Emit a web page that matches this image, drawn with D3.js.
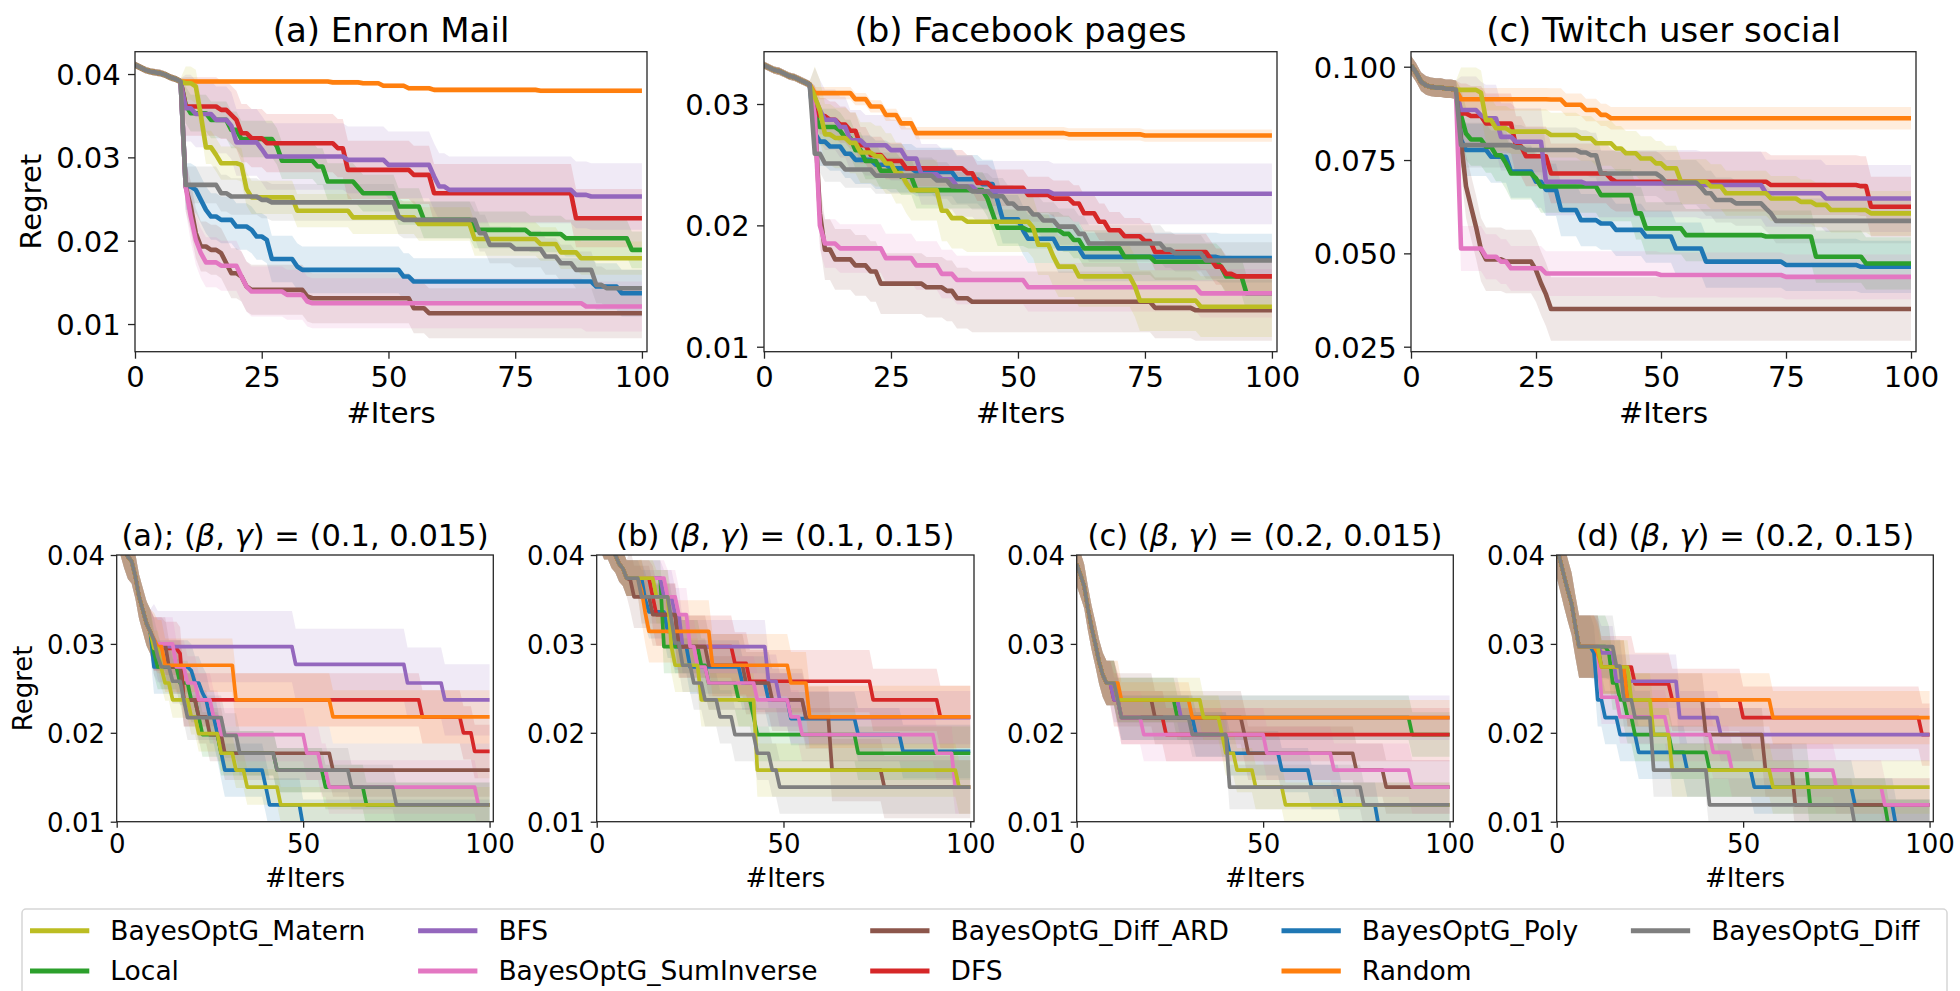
<!DOCTYPE html>
<html>
<head>
<meta charset="utf-8">
<script src="https://cdn.jsdelivr.net/npm/d3@7"></script>
<style>
  body { margin: 0; background: #fff; }
  svg { display: block; }
  text { font-family: "DejaVu Sans", sans-serif; fill: #000; }
</style>
</head>
<body>
<svg id="chart" width="1960" height="991"></svg>
<script>
// ---- series (legend order) and their colours ----
const SERIES = ["BayesOptG_Matern", "Local", "BFS", "BayesOptG_SumInverse", "BayesOptG_Diff_ARD",
                "DFS", "BayesOptG_Poly", "Random", "BayesOptG_Diff"];
const COLORS = ["#bcbd22", "#2ca02c", "#9467bd", "#e377c2", "#8c564b",
                "#d62728", "#1f77b4", "#ff7f0e", "#7f7f7f"];
// painting order (later = on top)
const DRAW_ORDER = ["BayesOptG_Poly", "Local", "DFS", "BFS", "BayesOptG_Diff_ARD",
                    "BayesOptG_SumInverse", "Random", "BayesOptG_Matern", "BayesOptG_Diff"];

const ITER_TICKS_TOP = [0, 25, 50, 75, 100];
const ITER_TICKS_BOTTOM = [0, 50, 100];
const REGRET_TICKS_ENRON = [0.01, 0.02, 0.03, 0.04];
const REGRET_TICKS_FACEBOOK = [0.01, 0.02, 0.03];
const REGRET_TICKS_TWITCH = [0.025, 0.05, 0.075, 0.1];
const REGRET_TICKS_SIR = [0.01, 0.02, 0.03, 0.04];

const TOP_TITLES = ["(a) Enron Mail", "(b) Facebook pages", "(c) Twitch user social"];
const SIR_PREFIX = ["(a);", "(b)", "(c)", "(d)"];
const SIR_BETA = ["0.1", "0.1", "0.2", "0.2"];
const SIR_GAMMA = ["0.015", "0.15", "0.015", "0.15"];

// Mean regret per run as [iteration, value] breakpoints; value holds until the next breakpoint.
const enronInit = [[0,0.0411],[1,0.0408],[2,0.0405],[3,0.0403],[4,0.0402],[5,0.0401],[6,0.0399],[7,0.0396],[8,0.0394],[9,0.0391]];
const enron = {
  "BayesOptG_Matern": [[10,0.0389],[12,0.0385],[13,0.0350],[14,0.0312],[16,0.0303],[17,0.0293],[21,0.0291],[22,0.0262],[23,0.0252],[32,0.0236],[43,0.0228],[56,0.0220],[67,0.0202],[80,0.0196],[84,0.0186],[88,0.0179]],
  "Local": [[10,0.0363],[11,0.0353],[15,0.0345],[19,0.0333],[21,0.0322],[28,0.0313],[29,0.0296],[36,0.0289],[38,0.0271],[44,0.0264],[45,0.0257],[52,0.0241],[57,0.0225],[67,0.0213],[78,0.0208],[85,0.0203],[98,0.0189]],
  "BFS": [[10,0.0359],[12,0.0352],[16,0.0345],[19,0.0338],[20,0.0318],[25,0.0310],[26,0.0301],[42,0.0297],[50,0.0291],[59,0.0277],[60,0.0265],[62,0.0261],[87,0.0255],[90,0.0253]],
  "BayesOptG_SumInverse": [[10,0.0265],[11,0.0229],[12,0.0201],[13,0.0185],[14,0.0174],[17,0.0170],[21,0.0157],[22,0.0145],[23,0.0139],[30,0.0135],[34,0.0127],[35,0.0125],[89,0.0121]],
  "BayesOptG_Diff_ARD": [[10,0.0265],[11,0.0241],[12,0.0209],[13,0.0193],[15,0.0189],[17,0.0185],[18,0.0173],[19,0.0161],[21,0.0157],[22,0.0145],[23,0.0141],[34,0.0133],[35,0.0131],[55,0.0119],[58,0.0113]],
  "DFS": [[10,0.0361],[17,0.0357],[19,0.0351],[20,0.0345],[21,0.0329],[23,0.0323],[26,0.0317],[40,0.0311],[42,0.0285],[55,0.0279],[59,0.0257],[87,0.0227]],
  "BayesOptG_Poly": [[10,0.0265],[12,0.0261],[13,0.0249],[14,0.0237],[15,0.0229],[17,0.0225],[20,0.0217],[23,0.0213],[24,0.0205],[26,0.0201],[27,0.0178],[32,0.0169],[33,0.0165],[53,0.0157],[55,0.0151],[91,0.0145],[96,0.0137]],
  "Random": [[10,0.0391],[39,0.0390],[45,0.0389],[49,0.0386],[54,0.0383],[59,0.0381],[80,0.0380]],
  "BayesOptG_Diff": [[10,0.0267],[17,0.0257],[19,0.0253],[25,0.0249],[27,0.0246],[52,0.0229],[53,0.0225],[68,0.0209],[70,0.0195],[75,0.0190],[81,0.0181],[84,0.0173],[87,0.0165],[91,0.0147],[93,0.0143]]
};
const enronSpread = [0.0020, 0.0022, 0.0040, 0.0030, 0.0030, 0.0035, 0.0028, 0.0003, 0.0022];

const facebookInit = [[0,0.0332],[1,0.0330],[2,0.0328],[3,0.0327],[4,0.0325],[5,0.0323],[6,0.0322],[7,0.0320],[8,0.0318],[9,0.0316]];
const facebook = {
  "BayesOptG_Matern": [[10,0.0306],[11,0.0295],[12,0.0275],[14,0.0272],[17,0.0268],[19,0.0260],[22,0.0257],[24,0.0251],[26,0.0243],[28,0.0235],[29,0.0229],[35,0.0212],[37,0.0206],[40,0.0203],[53,0.0198],[54,0.0184],[57,0.0174],[58,0.0166],[62,0.0158],[73,0.0150],[74,0.0138],[86,0.0133]],
  "Local": [[10,0.0292],[11,0.0281],[15,0.0278],[16,0.0272],[18,0.0262],[20,0.0253],[23,0.0245],[27,0.0240],[30,0.0229],[44,0.0222],[45,0.0210],[46,0.0198],[52,0.0196],[59,0.0193],[61,0.0188],[63,0.0181],[71,0.0174],[77,0.0170],[90,0.0166],[91,0.0158],[95,0.0144]],
  "BFS": [[10,0.0305],[11,0.0295],[12,0.0287],[15,0.0281],[17,0.0270],[20,0.0266],[25,0.0262],[28,0.0255],[31,0.0242],[35,0.0238],[38,0.0232],[42,0.0228],[57,0.0226]],
  "BayesOptG_SumInverse": [[10,0.0290],[11,0.0200],[12,0.0185],[15,0.0181],[24,0.0173],[30,0.0167],[35,0.0160],[38,0.0155],[52,0.0149],[86,0.0144]],
  "BayesOptG_Diff_ARD": [[10,0.0290],[11,0.0210],[12,0.0180],[14,0.0172],[18,0.0167],[21,0.0162],[23,0.0152],[32,0.0149],[36,0.0146],[38,0.0140],[41,0.0137],[77,0.0132],[85,0.0130]],
  "DFS": [[10,0.0300],[11,0.0290],[13,0.0287],[15,0.0283],[17,0.0278],[19,0.0266],[21,0.0258],[24,0.0253],[28,0.0247],[40,0.0243],[42,0.0235],[45,0.0231],[52,0.0225],[57,0.0222],[61,0.0218],[63,0.0210],[66,0.0203],[68,0.0196],[71,0.0191],[75,0.0187],[77,0.0178],[88,0.0172],[89,0.0166],[91,0.0160],[93,0.0158]],
  "BayesOptG_Poly": [[10,0.0276],[11,0.0269],[13,0.0265],[16,0.0259],[18,0.0254],[22,0.0250],[25,0.0247],[30,0.0244],[38,0.0238],[43,0.0234],[46,0.0220],[47,0.0205],[51,0.0196],[52,0.0189],[58,0.0181],[63,0.0174],[90,0.0173]],
  "Random": [[10,0.0309],[15,0.0309],[18,0.0304],[21,0.0298],[24,0.0291],[27,0.0284],[30,0.0276],[60,0.0275],[75,0.0274]],
  "BayesOptG_Diff": [[10,0.0259],[12,0.0251],[16,0.0246],[22,0.0241],[34,0.0237],[37,0.0232],[41,0.0228],[45,0.0224],[48,0.0218],[50,0.0214],[53,0.0209],[55,0.0204],[58,0.0199],[62,0.0193],[64,0.0185],[79,0.0180],[81,0.0177],[87,0.0171]]
};
const facebookSpread = [0.0025, 0.0015, 0.0025, 0.0020, 0.0025, 0.0015, 0.0020, 0.0005, 0.0015];

const twitchInit = [[0,0.1004],[1,0.0985],[2,0.0960],[3,0.0950],[4,0.0946],[5,0.0944],[7,0.0941],[9,0.0938]];
const twitch = {
  "BayesOptG_Matern": [[10,0.0938],[14,0.0930],[15,0.0857],[17,0.0835],[20,0.0826],[28,0.0817],[34,0.0808],[37,0.0795],[41,0.0781],[43,0.0768],[46,0.0754],[49,0.0741],[51,0.0728],[54,0.0692],[60,0.0679],[63,0.0661],[72,0.0647],[78,0.0638],[81,0.0630],[84,0.0616],[92,0.0607]],
  "Local": [[10,0.0870],[11,0.0821],[12,0.0805],[15,0.0786],[17,0.0763],[19,0.0741],[20,0.0714],[25,0.0701],[26,0.0679],[38,0.0656],[45,0.0607],[47,0.0567],[55,0.0549],[71,0.0545],[81,0.0491],[91,0.0473]],
  "BFS": [[10,0.0884],[14,0.0870],[15,0.0862],[18,0.0812],[21,0.0799],[27,0.0692],[35,0.0687],[58,0.0683],[71,0.0661],[83,0.0647]],
  "BayesOptG_SumInverse": [[10,0.0513],[15,0.0491],[18,0.0478],[20,0.0460],[27,0.0446],[50,0.0442],[75,0.0437]],
  "BayesOptG_Diff_ARD": [[10,0.0800],[11,0.0680],[12,0.0625],[13,0.0571],[14,0.0510],[15,0.0484],[19,0.0478],[25,0.0455],[26,0.0420],[27,0.0390],[28,0.0351]],
  "DFS": [[10,0.0875],[12,0.0868],[15,0.0848],[21,0.0787],[23,0.0760],[28,0.0714],[40,0.0700],[41,0.0692],[72,0.0683],[90,0.0680],[92,0.0625]],
  "BayesOptG_Poly": [[10,0.0804],[11,0.0777],[16,0.0759],[20,0.0719],[25,0.0692],[27,0.0670],[30,0.0616],[34,0.0589],[38,0.0580],[41,0.0563],[47,0.0545],[53,0.0513],[59,0.0478],[75,0.0469],[90,0.0464]],
  "Random": [[10,0.0913],[28,0.0912],[31,0.0898],[35,0.0884],[38,0.0871],[40,0.0862]],
  "BayesOptG_Diff": [[10,0.0790],[21,0.0784],[23,0.0777],[34,0.0770],[36,0.0763],[38,0.0714],[50,0.0705],[51,0.0690],[58,0.0677],[59,0.0661],[61,0.0643],[65,0.0634],[71,0.0620],[72,0.0607],[73,0.0587]]
};
const twitchSpread = [0.0060, 0.0070, 0.0090, 0.0060, 0.0085, 0.0080, 0.0070, 0.0030, 0.0060];

const sirAInit = [[0,0.0440],[1,0.0425],[2,0.0410],[3,0.0398],[4,0.0393],[5,0.0376],[6,0.0353],[7,0.0338],[8,0.0323],[9,0.0314]];
const sirA = {
  "BayesOptG_Matern": [[10,0.0295],[12,0.0272],[13,0.0256],[15,0.0237],[20,0.0218],[22,0.0199],[28,0.0177],[32,0.0158],[35,0.0139],[44,0.0119]],
  "Local": [[10,0.0290],[11,0.0274],[17,0.0256],[20,0.0237],[22,0.0218],[23,0.0198],[28,0.0177],[43,0.0158],[56,0.0139],[67,0.0119]],
  "BFS": [[10,0.0305],[11,0.0297],[48,0.0277],[78,0.0256],[88,0.0237]],
  "BayesOptG_SumInverse": [[10,0.0300],[16,0.0274],[19,0.0256],[22,0.0237],[26,0.0218],[28,0.0198],[51,0.0177],[55,0.0158],[57,0.0139],[97,0.0119]],
  "BayesOptG_Diff_ARD": [[10,0.0300],[14,0.0274],[18,0.0237],[22,0.0218],[25,0.0198],[29,0.0177],[58,0.0158]],
  "DFS": [[10,0.0300],[13,0.0295],[17,0.0289],[18,0.0237],[82,0.0218],[93,0.0200],[96,0.0179]],
  "BayesOptG_Poly": [[10,0.0274],[20,0.0270],[21,0.0256],[23,0.0245],[24,0.0237],[25,0.0218],[27,0.0199],[28,0.0178],[29,0.0158],[40,0.0139],[41,0.0119],[50,0.0095]],
  "Random": [[10,0.0305],[11,0.0297],[13,0.0276],[32,0.0237],[58,0.0218]],
  "BayesOptG_Diff": [[10,0.0304],[11,0.0286],[12,0.0274],[15,0.0258],[18,0.0237],[19,0.0217],[29,0.0197],[33,0.0177],[43,0.0158],[63,0.0139],[75,0.0119]]
};
const sirASpread = [0.0020, 0.0025, 0.0040, 0.0030, 0.0030, 0.0030, 0.0030, 0.0030, 0.0025];

const sirBInit = [[0,0.0425],[2,0.0415],[4,0.0405],[5,0.0400],[6,0.0390],[7,0.0385],[8,0.0374]];
const sirB = {
  "BayesOptG_Matern": [[16,0.0353],[20,0.0297],[21,0.0276],[28,0.0237],[43,0.0158],[97,0.0139]],
  "Local": [[18,0.0297],[28,0.0276],[30,0.0256],[38,0.0237],[42,0.0218],[43,0.0198],[70,0.0177]],
  "BFS": [[18,0.0353],[21,0.0333],[23,0.0297],[46,0.0258],[49,0.0237],[56,0.0217]],
  "BayesOptG_SumInverse": [[19,0.0353],[22,0.0333],[25,0.0297],[27,0.0274],[30,0.0256],[43,0.0237],[52,0.0218],[55,0.0198],[91,0.0177],[96,0.0139]],
  "BayesOptG_Diff_ARD": [[9,0.0372],[10,0.0353],[15,0.0333],[22,0.0297],[30,0.0276],[40,0.0256],[47,0.0237],[56,0.0217],[63,0.0158],[77,0.0139]],
  "DFS": [[15,0.0353],[16,0.0333],[22,0.0297],[37,0.0278],[41,0.0258],[74,0.0237],[92,0.0218]],
  "BayesOptG_Poly": [[13,0.0350],[14,0.0336],[19,0.0314],[21,0.0297],[25,0.0274],[39,0.0256],[46,0.0237],[52,0.0216],[70,0.0198],[82,0.0179]],
  "Random": [[12,0.0360],[13,0.0335],[14,0.0314],[31,0.0276],[52,0.0256],[57,0.0218]],
  "BayesOptG_Diff": [[12,0.0353],[20,0.0327],[21,0.0301],[23,0.0276],[26,0.0256],[29,0.0237],[33,0.0218],[37,0.0198],[43,0.0177],[47,0.0158],[49,0.0139]]
};
const sirBSpread = [0.0030, 0.0030, 0.0030, 0.0030, 0.0035, 0.0035, 0.0030, 0.0035, 0.0030];

const sirCInit = [[0,0.0390],[1,0.0378],[2,0.0365],[3,0.0340],[4,0.0318],[5,0.0300],[6,0.0280],[7,0.0265],[8,0.0256]];
const sirC = {
  "BayesOptG_Matern": [[11,0.0237],[34,0.0217],[39,0.0198],[40,0.0177],[43,0.0158],[48,0.0139],[56,0.0119]],
  "Local": [[11,0.0237],[27,0.0217],[90,0.0198]],
  "BFS": [[10,0.0237],[28,0.0217]],
  "BayesOptG_SumInverse": [[11,0.0237],[12,0.0217],[18,0.0198],[51,0.0177],[69,0.0158],[90,0.0139]],
  "BayesOptG_Diff_ARD": [[11,0.0237],[21,0.0217],[45,0.0198],[46,0.0177],[75,0.0158],[83,0.0139]],
  "DFS": [[10,0.0237],[12,0.0217],[24,0.0198]],
  "BayesOptG_Poly": [[11,0.0237],[12,0.0217],[32,0.0198],[41,0.0177],[55,0.0158],[63,0.0139],[71,0.0119],[81,0.0095]],
  "Random": [[12,0.0237],[31,0.0217]],
  "BayesOptG_Diff": [[11,0.0237],[12,0.0217],[31,0.0198],[41,0.0139],[77,0.0119]]
};
const sirCSpread = [0.0025, 0.0025, 0.0025, 0.0030, 0.0030, 0.0030, 0.0025, 0.0020, 0.0025];

const sirDInit = [[0,0.0410],[1,0.0393],[2,0.0376],[3,0.0360],[4,0.0345],[5,0.0320],[6,0.0297]];
const sirD = {
  "BayesOptG_Matern": [[12,0.0274],[20,0.0237],[26,0.0198],[31,0.0158],[58,0.0139]],
  "Local": [[14,0.0290],[15,0.0256],[17,0.0237],[19,0.0218],[21,0.0198],[31,0.0178],[41,0.0158],[68,0.0119],[89,0.0095]],
  "BFS": [[12,0.0290],[16,0.0258],[33,0.0217],[44,0.0198]],
  "BayesOptG_SumInverse": [[12,0.0240],[17,0.0218],[30,0.0198],[42,0.0178],[47,0.0158],[75,0.0139],[88,0.0119]],
  "BayesOptG_Diff_ARD": [[12,0.0274],[19,0.0237],[40,0.0198],[56,0.0158],[64,0.0119]],
  "DFS": [[11,0.0290],[12,0.0274],[21,0.0255],[31,0.0237],[50,0.0217],[98,0.0198]],
  "BayesOptG_Poly": [[10,0.0290],[11,0.0237],[13,0.0217],[17,0.0198],[22,0.0178],[35,0.0158],[53,0.0139],[80,0.0119],[91,0.0095]],
  "Random": [[11,0.0290],[12,0.0274],[19,0.0237],[58,0.0217]],
  "BayesOptG_Diff": [[16,0.0275],[18,0.0237],[21,0.0217],[26,0.0158],[41,0.0119],[80,0.0095]]
};
const sirDSpread = [0.0030, 0.0030, 0.0030, 0.0030, 0.0030, 0.0035, 0.0030, 0.0030, 0.0030];

// ---- layout ----
const svg = d3.select("#chart");
const FONT = "DejaVu Sans";

const TOP = { y0: 51.7, y1: 351.7, tick: 29, label: 29, title: 34, lw: 4.6, tickLen: 7 };
const BOT = { y0: 555, y1: 821.7, tick: 26, label: 26, title: 30.5, lw: 3.7, tickLen: 6 };

const panels = [
  { row: TOP, x0: 135, x1: 647, init: enronInit, data: enron, spread: enronSpread, initSpread: 0.0004,
    yDomain: [0.00668, 0.04268], yTicks: REGRET_TICKS_ENRON, fmt: d3.format(".2f"), xTicks: ITER_TICKS_TOP,
    title: TOP_TITLES[0], ylabel: true },
  { row: TOP, x0: 764, x1: 1277, init: facebookInit, data: facebook, spread: facebookSpread, initSpread: 0.0003,
    yDomain: [0.00959, 0.03431], yTicks: REGRET_TICKS_FACEBOOK, fmt: d3.format(".2f"), xTicks: ITER_TICKS_TOP,
    title: TOP_TITLES[1] },
  { row: TOP, x0: 1411, x1: 1916, init: twitchInit, data: twitch, spread: twitchSpread, initSpread: 0.0025,
    yDomain: [0.02366, 0.10402], yTicks: REGRET_TICKS_TWITCH, fmt: d3.format(".3f"), xTicks: ITER_TICKS_TOP,
    title: TOP_TITLES[2] },
  { row: BOT, x0: 116.7, x1: 493.3, init: sirAInit, data: sirA, spread: sirASpread, initSpread: 0.0025,
    yDomain: [0.01, 0.04], yTicks: REGRET_TICKS_SIR, fmt: d3.format(".2f"), xTicks: ITER_TICKS_BOTTOM,
    sir: 0, ylabel: true },
  { row: BOT, x0: 596.7, x1: 974, init: sirBInit, data: sirB, spread: sirBSpread, initSpread: 0.0020,
    yDomain: [0.01, 0.04], yTicks: REGRET_TICKS_SIR, fmt: d3.format(".2f"), xTicks: ITER_TICKS_BOTTOM, sir: 1 },
  { row: BOT, x0: 1076.7, x1: 1453.3, init: sirCInit, data: sirC, spread: sirCSpread, initSpread: 0.0025,
    yDomain: [0.01, 0.04], yTicks: REGRET_TICKS_SIR, fmt: d3.format(".2f"), xTicks: ITER_TICKS_BOTTOM, sir: 2 },
  { row: BOT, x0: 1556.7, x1: 1933.3, init: sirDInit, data: sirD, spread: sirDSpread, initSpread: 0.0035,
    yDomain: [0.01, 0.04], yTicks: REGRET_TICKS_SIR, fmt: d3.format(".2f"), xTicks: ITER_TICKS_BOTTOM, sir: 3 }
];

// expand step breakpoints into a path over integer iterations:
// each value holds until one iteration before the next breakpoint
function expand(init, own, initSd, sd) {
  const pts = init.map(([x, y]) => ({ x, y, sd: initSd }))
    .concat(own.map(([x, y]) => ({ x, y, sd })));
  pts.sort((a, b) => a.x - b.x);
  const out = [pts[0]];
  for (let i = 1; i < pts.length; i++) {
    const p = pts[i], q = pts[i - 1];
    if (p.x - 1 > q.x) out.push({ x: p.x - 1, y: q.y, sd: q.sd });
    out.push(p);
  }
  const last = out[out.length - 1];
  if (last.x < 100) out.push({ x: 100, y: last.y, sd: last.sd });
  return out;
}

panels.forEach((P, pi) => {
  const R = P.row;
  const x = d3.scaleLinear().domain([0, 101]).range([P.x0, P.x1]);
  const y = d3.scaleLinear().domain(P.yDomain).range([R.y1, R.y0]);
  const g = svg.append("g");

  const clipId = "clip" + pi;
  svg.append("clipPath").attr("id", clipId).append("rect")
    .attr("x", P.x0).attr("y", R.y0).attr("width", P.x1 - P.x0).attr("height", R.y1 - R.y0);
  const plot = g.append("g").attr("clip-path", `url(#${clipId})`);

  const series = DRAW_ORDER.map(name => {
    const k = SERIES.indexOf(name);
    return { name, color: COLORS[k], pts: expand(P.init, P.data[name], P.initSpread, P.spread[k]) };
  });

  const area = d3.area().x(d => x(d.x)).y0(d => y(d.y - d.sd)).y1(d => y(d.y + d.sd));
  const line = d3.line().x(d => x(d.x)).y(d => y(d.y));

  plot.selectAll("path.band").data(series).join("path")
    .attr("class", "band").attr("d", d => area(d.pts))
    .attr("fill", d => d.color).attr("fill-opacity", 0.14).attr("stroke", "none");

  plot.selectAll("path.mean").data(series).join("path")
    .attr("class", "mean").attr("d", d => line(d.pts))
    .attr("fill", "none").attr("stroke", d => d.color).attr("stroke-width", R.lw)
    .attr("stroke-linejoin", "round").attr("stroke-linecap", "butt");

  // axes
  const xAxis = d3.axisBottom(x).tickValues(P.xTicks).tickSize(R.tickLen).tickPadding(5).tickFormat(d3.format("d"));
  const yAxis = d3.axisLeft(y).tickValues(P.yTicks).tickSize(R.tickLen).tickPadding(7).tickFormat(P.fmt);
  const gx = g.append("g").attr("transform", `translate(0,${R.y1})`).call(xAxis);
  const gy = g.append("g").attr("transform", `translate(${P.x0},0)`).call(yAxis);
  [gx, gy].forEach(a => {
    a.select(".domain").remove();
    a.selectAll(".tick line").attr("stroke", "#262626").attr("stroke-width", 1.3);
    a.selectAll(".tick text").attr("fill", "#000").style("font-family", FONT).style("font-size", R.tick + "px");
  });
  gx.selectAll(".tick text").attr("dy", null).attr("y", R === TOP ? 35 : 31.3);
  gy.selectAll(".tick text").attr("dy", "0.36em").attr("x", R === TOP ? -14.3 : -11.7);

  // frame
  g.append("rect").attr("x", P.x0).attr("y", R.y0).attr("width", P.x1 - P.x0).attr("height", R.y1 - R.y0)
    .attr("fill", "none").attr("stroke", "#262626").attr("stroke-width", 1.3);

  const cx = (P.x0 + P.x1) / 2;
  // x label
  g.append("text").attr("x", cx).attr("y", R.y1 + (R === TOP ? 71.3 : 65.3))
    .attr("text-anchor", "middle").style("font-size", R.label + "px").text("#Iters");
  // y label
  if (P.ylabel) {
    const lx = R === TOP ? 41 : 32.3;
    g.append("text").attr("transform", `translate(${lx},${(R.y0 + R.y1) / 2}) rotate(-90)`)
      .attr("text-anchor", "middle").style("font-size", R.label + "px").text("Regret");
  }
  // title
  if (P.title) {
    g.append("text").attr("x", cx).attr("y", 42).attr("text-anchor", "middle")
      .style("font-size", R.title + "px").text(P.title);
  } else {
    const t = g.append("text").attr("x", cx).attr("y", 546).attr("text-anchor", "middle")
      .style("font-size", R.title + "px");
    t.append("tspan").text(SIR_PREFIX[P.sir] + " (");
    t.append("tspan").style("font-style", "italic").text("β");
    t.append("tspan").text(", ");
    t.append("tspan").style("font-style", "italic").text("γ");
    t.append("tspan").text(`) = (${SIR_BETA[P.sir]}, ${SIR_GAMMA[P.sir]})`);
  }
});

// ---- legend (5 columns, filled column by column) ----
const LEG = { x: 22, y: 909, right: 1947, handleX: 30, handleLen: 59.3, textGap: 21, colGap: 52.7,
              rowY: [930.7, 971], font: 26.5 };
const legend = svg.append("g");
legend.append("rect").attr("x", LEG.x).attr("y", LEG.y).attr("width", LEG.right - LEG.x).attr("height", 100)
  .attr("rx", 4).attr("fill", "#fff").attr("stroke", "#d6d6d6").attr("stroke-width", 1.5);

const nCols = 5;
let colX = LEG.handleX;
for (let c = 0; c < nCols; c++) {
  const items = SERIES.slice(c * 2, c * 2 + 2);
  let maxW = 0;
  items.forEach((name, r) => {
    const k = SERIES.indexOf(name);
    const yy = LEG.rowY[r];
    legend.append("line").attr("x1", colX).attr("x2", colX + LEG.handleLen).attr("y1", yy).attr("y2", yy)
      .attr("stroke", COLORS[k]).attr("stroke-width", 5);
    const t = legend.append("text").attr("x", colX + LEG.handleLen + LEG.textGap).attr("y", yy)
      .attr("dy", "0.35em").style("font-size", LEG.font + "px").text(name);
    maxW = Math.max(maxW, t.node().getComputedTextLength());
  });
  colX = colX + LEG.handleLen + LEG.textGap + maxW + LEG.colGap;
}
</script>
</body>
</html>
